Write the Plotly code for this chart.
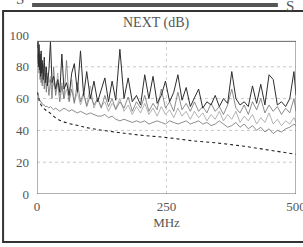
import plotly.graph_objects as go

# ---------------- data ----------------
FREQ_MHZ = [1, 2, 3, 4, 5, 6, 7, 8, 9, 10, 12, 14, 16, 18, 20, 23, 26, 29, 32, 36,
            40, 44, 48, 52, 57, 62, 67, 72, 78, 84, 90, 96, 103, 110, 117, 124, 131,
            138, 145, 152, 160, 168, 176, 184, 192, 200, 208, 216, 224, 232, 240,
            248, 256, 264, 272, 280, 288, 296, 304, 312, 320, 328, 336, 344, 352,
            360, 368, 376, 384, 392, 400, 408, 416, 424, 432, 440, 448, 456, 464,
            472, 480, 488, 496, 500]

PAIR_A = [92, 96, 80, 94, 78, 88, 74, 90, 76, 84, 72, 86, 70, 80, 68, 78, 96, 70, 74, 66,
          72, 64, 88, 66, 70, 62, 76, 82, 64, 90, 62, 77, 60, 71, 58, 66, 73,
          58, 71, 59, 91, 60, 73, 58, 62, 56, 75, 60, 74, 57, 62,
          71, 58, 64, 75, 59, 67, 55, 60, 66, 54, 58, 56, 62, 55,
          60, 57, 77, 60, 56, 58, 55, 68, 57, 69, 56, 75, 72, 56,
          58, 55, 60, 77, 62]

PAIR_B = [88, 82, 92, 76, 86, 72, 82, 70, 80, 68, 78, 66, 76, 64, 74, 62, 72, 60, 80, 62,
          70, 58, 68, 60, 84, 58, 66, 57, 70, 58, 64, 55, 62, 56, 60, 54, 62,
          55, 60, 53, 58, 54, 61, 52, 58, 54, 62, 52, 57, 53, 66,
          54, 58, 52, 64, 53, 57, 52, 58, 52, 55, 51, 57, 52, 55,
          50, 56, 66, 54, 51, 56, 50, 58, 53, 60, 51, 56, 52, 55,
          50, 54, 51, 60, 52]

PAIR_C = [96, 86, 90, 84, 90, 80, 86, 78, 84, 76, 82, 74, 80, 72, 76, 70, 74, 66, 70, 64,
          76, 62, 70, 60, 66, 59, 72, 58, 64, 56, 62, 56, 68, 54, 60, 55, 58,
          52, 57, 54, 60, 52, 56, 50, 55, 51, 57, 50, 54, 49, 55,
          50, 53, 48, 54, 49, 52, 47, 52, 48, 51, 46, 50, 47, 52,
          46, 50, 47, 52, 45, 49, 46, 50, 44, 48, 45, 51, 44, 47,
          43, 46, 44, 48, 45]

PAIR_D = [64, 62, 61, 60, 59, 59, 58, 58, 57, 57, 56, 56, 55, 55, 55, 54, 55, 54, 53, 54,
          53, 52, 53, 54, 53, 52, 53, 52, 51, 52, 51, 50, 51, 50, 49, 49, 50,
          48, 49, 47, 46, 47, 46, 45, 46, 45, 46, 44, 45, 46, 45,
          44, 46, 45, 44, 45, 46, 44, 45, 46, 44, 45, 43, 44, 46,
          44, 42, 43, 45, 42, 44, 41, 43, 40, 42, 39, 41, 38, 40,
          39, 41, 42, 44, 43]

LIMIT_FREQ = [1, 2, 4, 6, 10, 16, 25, 40, 60, 80, 100, 150, 200, 250, 300, 350, 400, 450, 500]
LIMIT_DB = [64, 62, 59, 57, 55, 53, 51, 47, 44.5, 43, 41.5, 39, 37, 35.5, 33.5, 32, 30, 27.5, 25]

X_TICKS = [0, 250, 500]
Y_TICKS = [0, 20, 40, 60, 80, 100]
GRID_Y = [20, 40, 60, 80]
GRID_X = [250]
BOX_TOP_DB = 96

TITLE = "NEXT (dB)"
X_TITLE = "MHz"

FONT = "Liberation Serif"
TXT = "#555555"

fig = go.Figure()

series = [
    (PAIR_C, "#a0a0a0", 0.8),
    (PAIR_B, "#707070", 0.8),
    (PAIR_D, "#808080", 0.9),
    (PAIR_A, "#2e2e2e", 1.0),
]
for ys, col, w in series:
    fig.add_trace(go.Scatter(x=FREQ_MHZ, y=ys, mode="lines",
                             line=dict(color=col, width=w), hoverinfo="skip",
                             showlegend=False, cliponaxis=False))

fig.add_trace(go.Scatter(x=LIMIT_FREQ, y=LIMIT_DB, mode="lines", line_shape="spline",
                         line=dict(color="#222222", width=1.1, dash="dot"),
                         hoverinfo="skip", showlegend=False))

shapes = []
for g in GRID_Y:
    shapes.append(dict(type="line", xref="x", yref="y", x0=0, x1=500, y0=g, y1=g,
                       line=dict(color="#c8c8c8", width=1, dash="dot"), layer="below"))
for g in GRID_X:
    shapes.append(dict(type="line", xref="x", yref="y", x0=g, x1=g, y0=0, y1=BOX_TOP_DB,
                       line=dict(color="#d0d0d0", width=1, dash="dot"), layer="below"))
# plot box
shapes.append(dict(type="rect", xref="x", yref="y", x0=0, x1=500, y0=0, y1=BOX_TOP_DB,
                   line=dict(color="#666666", width=1), layer="above"))
# outer frame of the scanned page
shapes.append(dict(type="rect", xref="paper", yref="paper", x0=-0.131, x1=1.06,
                   y0=-0.302, y1=1.151, line=dict(color="#333333", width=2)))
# header bar
shapes.append(dict(type="rect", xref="paper", yref="paper", x0=-0.019, x1=0.930,
                   y0=1.176, y1=1.201, fillcolor="#555555", line=dict(width=0)))

annotations = [
    dict(text=TITLE, xref="paper", yref="paper", x=0.463, y=1.075, showarrow=False,
         font=dict(family=FONT, size=14, color=TXT), xanchor="center", yanchor="middle"),
    dict(text="S", xref="paper", yref="paper", x=-0.066, y=1.225, showarrow=False,
         font=dict(family=FONT, size=15, color=TXT), xanchor="center", yanchor="middle"),
    dict(text="S", xref="paper", yref="paper", x=0.975, y=1.180, showarrow=False,
         font=dict(family=FONT, size=15, color=TXT), xanchor="center", yanchor="middle"),
]

fig.update_layout(
    width=303, height=247,
    margin=dict(l=37, r=7, t=35, b=53, autoexpand=False),
    paper_bgcolor="white", plot_bgcolor="white",
    shapes=shapes, annotations=annotations,
    font=dict(family=FONT, size=13, color=TXT),
    xaxis=dict(range=[0, 500], tickvals=X_TICKS, ticktext=[str(v) for v in X_TICKS],
               showgrid=False, zeroline=False, showline=False, ticks="",
               ticklabelstandoff=3, automargin=False, ticklabeloverflow="allow",
               title=dict(text=X_TITLE, standoff=4, font=dict(family=FONT, size=13, color=TXT))),
    yaxis=dict(range=[0, 100], tickvals=Y_TICKS, ticktext=[str(v) for v in Y_TICKS],
               showgrid=False, zeroline=False, showline=False, ticks="",
               ticklabelstandoff=7, automargin=False, ticklabeloverflow="allow"),
)

fig.write_html(
    "out.html",
    config={"displayModeBar": False, "staticPlot": True},
    post_script="document.body.style.margin='0';document.body.style.overflow='hidden';",
)
